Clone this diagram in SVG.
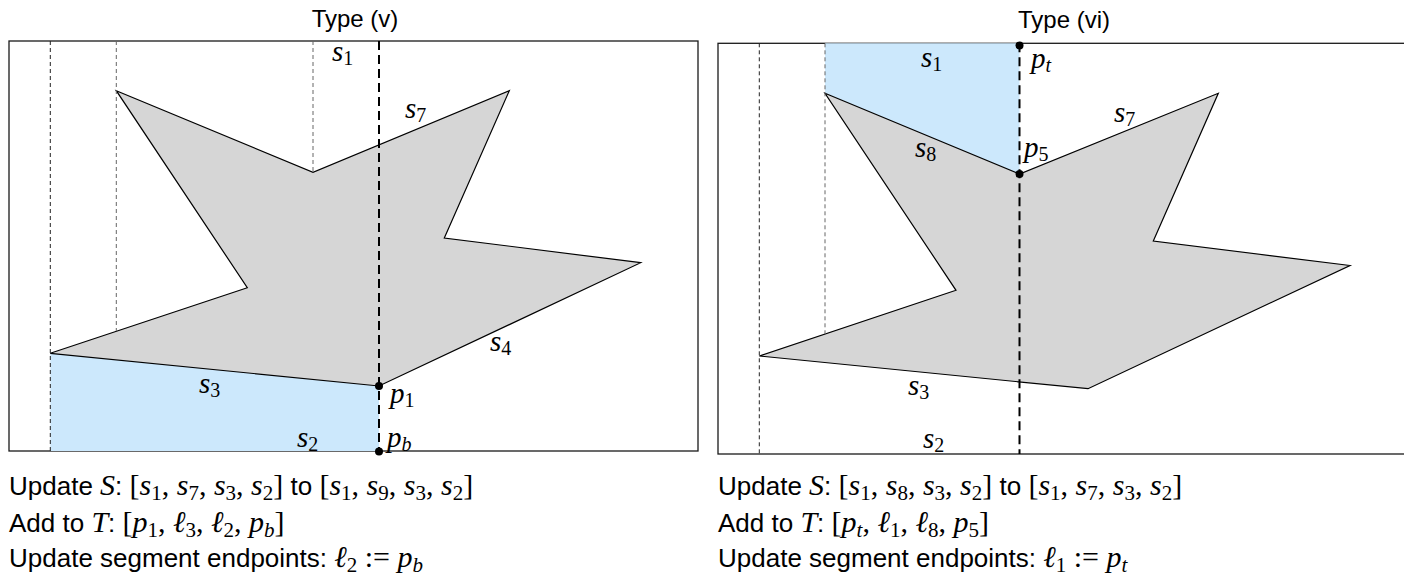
<svg xmlns="http://www.w3.org/2000/svg" width="1404" height="575" viewBox="0 0 1404 575">
<style>
.frame{fill:#fff;stroke:#1a1a1a;stroke-width:1.3}
.poly{fill:#d6d6d6;stroke:#000;stroke-width:1.2;stroke-linejoin:miter}
.blue{fill:#cce8fc;stroke:none}
.thin{stroke:#222;stroke-width:1;stroke-dasharray:4 3;fill:none}
.thing{stroke:#666;stroke-width:1;stroke-dasharray:4 3;fill:none}
.sweep{stroke:#000;stroke-width:2;stroke-dasharray:9 5;fill:none}
.dot{fill:#000}
.title{font-family:"Liberation Sans",Arial,sans-serif;font-size:24px;text-anchor:middle;fill:#000}
.lm{font-family:"Liberation Serif","DejaVu Serif",serif;font-style:italic;font-size:29px;fill:#000}
.ls{font-style:normal;font-size:20px}
.lsi{font-style:italic;font-size:20px}
.t{font-family:"Liberation Sans",Arial,sans-serif;font-size:26px;fill:#000}
.mi{font-family:"Liberation Serif","DejaVu Serif",serif;font-style:italic;font-size:30px}
.mr{font-family:"Liberation Serif","DejaVu Serif",serif;font-style:normal;font-size:30px}
.sb{font-family:"Liberation Serif","DejaVu Serif",serif;font-style:normal;font-size:21px}
.sbi{font-family:"Liberation Serif","DejaVu Serif",serif;font-style:italic;font-size:21px}
</style>

<g id="panel-v">
  <text class="title" x="355" y="27">Type (v)</text>
  <rect class="frame" x="9" y="41" width="689" height="410"/>
  <polygon class="blue" points="50.3,353.3 379,386 379,451 50.3,451"/>
  <polygon class="poly" points="116.3,90.7 313,172.3 509.3,90.7 444.3,238 640.7,262.7 379,386 50.3,353.3 247.3,287.7"/>
  <line class="thin" x1="50.3" y1="41" x2="50.3" y2="451"/>
  <line class="thing" x1="116.3" y1="41" x2="116.3" y2="331"/>
  <line class="thing" x1="313" y1="41" x2="313" y2="172.3"/>
  <line class="sweep" x1="379" y1="41" x2="379" y2="451"/>
  <circle class="dot" cx="379" cy="386" r="4"/>
  <circle class="dot" cx="379" cy="451.5" r="4"/>
  <text class="lm" x="332" y="61">s<tspan class="ls" dy="4">1</tspan></text>
  <text class="lm" x="405" y="118">s<tspan class="ls" dy="4">7</tspan></text>
  <text class="lm" x="199" y="393">s<tspan class="ls" dy="4">3</tspan></text>
  <text class="lm" x="297" y="447">s<tspan class="ls" dy="4">2</tspan></text>
  <text class="lm" x="490" y="351">s<tspan class="ls" dy="4">4</tspan></text>
  <text class="lm" x="390" y="403">p<tspan class="ls" dy="4">1</tspan></text>
  <text class="lm" x="387" y="447">p<tspan class="lsi" dy="4">b</tspan></text>
</g>

<g id="panel-vi">
  <text class="title" x="1064" y="28">Type (vi)</text>
  <rect class="frame" x="718" y="43.3" width="700" height="410.7"/>
  <polygon class="blue" points="825,43.3 1019.5,43.3 1019.5,174 825,93.3"/>
  <polygon class="poly" points="825,93.3 1019.5,174 1218.3,93.3 1153.3,241 1350,265.5 1088,388.7 759.3,356 956,290.3"/>
  <line class="thin" x1="759.3" y1="43.3" x2="759.3" y2="454"/>
  <line class="thing" x1="825" y1="43.3" x2="825" y2="334"/>
  <line class="sweep" x1="1019.5" y1="43.3" x2="1019.5" y2="454"/>
  <circle class="dot" cx="1019.5" cy="45.5" r="4"/>
  <circle class="dot" cx="1019.5" cy="174" r="4"/>
  <text class="lm" x="921" y="66.5">s<tspan class="ls" dy="4">1</tspan></text>
  <text class="lm" x="1031" y="68">p<tspan class="lsi" dy="4">t</tspan></text>
  <text class="lm" x="915" y="157">s<tspan class="ls" dy="4">8</tspan></text>
  <text class="lm" x="1024" y="157">p<tspan class="ls" dy="4">5</tspan></text>
  <text class="lm" x="1114" y="122">s<tspan class="ls" dy="4">7</tspan></text>
  <text class="lm" x="908" y="395">s<tspan class="ls" dy="4">3</tspan></text>
  <text class="lm" x="923" y="448">s<tspan class="ls" dy="4">2</tspan></text>
</g>

<g id="caption-v">
  <text class="t" x="9" y="495">Update <tspan class="mi">S</tspan>: <tspan class="mr">[</tspan><tspan class="mi">s</tspan><tspan class="sb" dy="5">1</tspan><tspan class="mr" dy="-5">, </tspan><tspan class="mi">s</tspan><tspan class="sb" dy="5">7</tspan><tspan class="mr" dy="-5">, </tspan><tspan class="mi">s</tspan><tspan class="sb" dy="5">3</tspan><tspan class="mr" dy="-5">, </tspan><tspan class="mi">s</tspan><tspan class="sb" dy="5">2</tspan><tspan class="mr" dy="-5">]</tspan> to <tspan class="mr">[</tspan><tspan class="mi">s</tspan><tspan class="sb" dy="5">1</tspan><tspan class="mr" dy="-5">, </tspan><tspan class="mi">s</tspan><tspan class="sb" dy="5">9</tspan><tspan class="mr" dy="-5">, </tspan><tspan class="mi">s</tspan><tspan class="sb" dy="5">3</tspan><tspan class="mr" dy="-5">, </tspan><tspan class="mi">s</tspan><tspan class="sb" dy="5">2</tspan><tspan class="mr" dy="-5">]</tspan></text>
  <text class="t" x="9" y="532">Add to <tspan class="mi">T</tspan>: <tspan class="mr">[</tspan><tspan class="mi">p</tspan><tspan class="sb" dy="5">1</tspan><tspan class="mr" dy="-5">, </tspan><tspan class="mi">ℓ</tspan><tspan class="sb" dy="5">3</tspan><tspan class="mr" dy="-5">, </tspan><tspan class="mi">ℓ</tspan><tspan class="sb" dy="5">2</tspan><tspan class="mr" dy="-5">, </tspan><tspan class="mi">p</tspan><tspan class="sbi" dy="5">b</tspan><tspan class="mr" dy="-5">]</tspan></text>
  <text class="t" x="9" y="567">Update segment endpoints: <tspan class="mi">ℓ</tspan><tspan class="sb" dy="5">2</tspan><tspan class="mr" dy="-5"> := </tspan><tspan class="mi">p</tspan><tspan class="sbi" dy="5">b</tspan></text>
</g>

<g id="caption-vi">
  <text class="t" x="718" y="495">Update <tspan class="mi">S</tspan>: <tspan class="mr">[</tspan><tspan class="mi">s</tspan><tspan class="sb" dy="5">1</tspan><tspan class="mr" dy="-5">, </tspan><tspan class="mi">s</tspan><tspan class="sb" dy="5">8</tspan><tspan class="mr" dy="-5">, </tspan><tspan class="mi">s</tspan><tspan class="sb" dy="5">3</tspan><tspan class="mr" dy="-5">, </tspan><tspan class="mi">s</tspan><tspan class="sb" dy="5">2</tspan><tspan class="mr" dy="-5">]</tspan> to <tspan class="mr">[</tspan><tspan class="mi">s</tspan><tspan class="sb" dy="5">1</tspan><tspan class="mr" dy="-5">, </tspan><tspan class="mi">s</tspan><tspan class="sb" dy="5">7</tspan><tspan class="mr" dy="-5">, </tspan><tspan class="mi">s</tspan><tspan class="sb" dy="5">3</tspan><tspan class="mr" dy="-5">, </tspan><tspan class="mi">s</tspan><tspan class="sb" dy="5">2</tspan><tspan class="mr" dy="-5">]</tspan></text>
  <text class="t" x="718" y="532">Add to <tspan class="mi">T</tspan>: <tspan class="mr">[</tspan><tspan class="mi">p</tspan><tspan class="sbi" dy="5">t</tspan><tspan class="mr" dy="-5">, </tspan><tspan class="mi">ℓ</tspan><tspan class="sb" dy="5">1</tspan><tspan class="mr" dy="-5">, </tspan><tspan class="mi">ℓ</tspan><tspan class="sb" dy="5">8</tspan><tspan class="mr" dy="-5">, </tspan><tspan class="mi">p</tspan><tspan class="sb" dy="5">5</tspan><tspan class="mr" dy="-5">]</tspan></text>
  <text class="t" x="718" y="567">Update segment endpoints: <tspan class="mi">ℓ</tspan><tspan class="sb" dy="5">1</tspan><tspan class="mr" dy="-5"> := </tspan><tspan class="mi">p</tspan><tspan class="sbi" dy="5">t</tspan></text>
</g>
</svg>
